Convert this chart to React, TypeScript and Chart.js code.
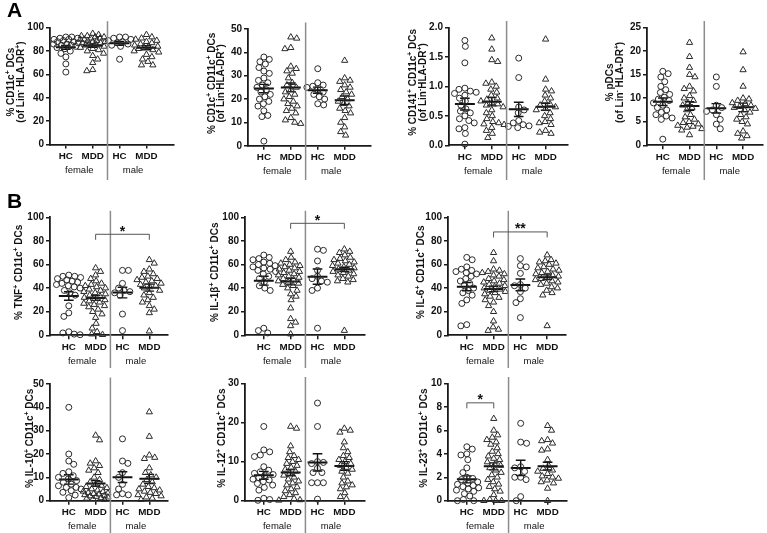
import React, { useEffect, useRef } from "react";
import { Chart, registerables } from "chart.js";
Chart.register(...registerables);

const FONT = '"Liberation Sans", Arial, Helvetica, sans-serif';

const groupLabels = ["HC", "MDD", "HC", "MDD"];
const sexLabels = ["female", "male"];
const groupX = [1, 2, 3, 4];
const sexCenters = [1.5, 3.5];
const dividerX = 2.55;

// ---------- Panel A: % CD11c+ DCs ----------
const cd11cValues = [
  [92, 92, 91, 91, 90, 90, 89, 88, 88, 87, 86, 86, 85, 85, 84, 83, 82, 80, 78, 75, 69, 62],
  [95, 94, 93, 93, 92, 92, 91, 91, 90, 90, 89, 89, 88, 88, 87, 87, 86, 86, 85, 84, 83, 82, 81, 80, 78, 76, 73, 70, 64, 63],
  [92, 92, 91, 90, 89, 88, 87, 86, 85, 84, 73],
  [94, 92, 91, 90, 89, 88, 87, 86, 85, 84, 84, 83, 82, 81, 80, 79, 77, 75, 73, 71, 68, 68],
];
const cd11cMean = [83.2, 84.6, 86.6, 82.8];
const cd11cSem = [1.6, 1.3, 1.6, 1.7];

// ---------- % CD1c+ CD11c+ DCs ----------
const cd1cValues = [
  [38, 37, 36, 35, 33.5, 32, 31, 29, 28, 27, 26, 25, 24, 23, 22, 21, 20, 19, 18, 17, 15, 13, 12.5, 2],
  [46.5, 46, 42, 41.5, 34, 33, 32, 31, 29, 27, 26, 25, 24, 23, 22, 21, 20, 19, 18, 17, 16, 15, 14, 12, 11, 10, 9.5],
  [33, 27, 26, 25.5, 25, 24, 23, 22, 21, 20, 18, 17.5],
  [36.5, 29, 28, 27.5, 26, 25, 24, 23, 22, 21, 20, 19, 18, 17, 16, 15, 14, 12, 10, 8, 6, 4.5],
];
const cd1cMean = [24.5, 25, 23.8, 19.5];
const cd1cSem = [1.8, 1.9, 1.3, 1.8];

// ---------- % CD141+ CD11c+ DCs ----------
const cd141Values = [
  [1.78, 1.68, 1.4, 0.97, 0.95, 0.92, 0.9, 0.88, 0.85, 0.8, 0.75, 0.68, 0.62, 0.58, 0.55, 0.5, 0.45, 0.42, 0.38, 0.3, 0.28, 0.2, 0.02],
  [1.82, 1.63, 1.45, 1.42, 1.07, 1.05, 1.0, 0.95, 0.9, 0.85, 0.8, 0.78, 0.75, 0.72, 0.7, 0.68, 0.65, 0.6, 0.55, 0.5, 0.45, 0.4, 0.38, 0.36, 0.35, 0.3, 0.25, 0.2, 0.13],
  [1.48, 1.15, 0.65, 0.6, 0.55, 0.42, 0.38, 0.35, 0.33, 0.32, 0.3],
  [1.8, 1.12, 0.95, 0.92, 0.85, 0.8, 0.75, 0.7, 0.68, 0.65, 0.62, 0.6, 0.55, 0.5, 0.45, 0.4, 0.38, 0.35, 0.25, 0.22, 0.2],
];
const cd141Mean = [0.7, 0.74, 0.61, 0.655];
const cd141Sem = [0.1, 0.07, 0.12, 0.06];

// ---------- % pDCs ----------
const pdcValues = [
  [15.7, 15.2, 14.5, 13.5, 12.5, 11.8, 11.2, 10.8, 10.2, 9.8, 9.5, 9.0, 8.5, 8.0, 7.5, 7.0, 6.5, 6.2, 5.8, 5.5, 1.3],
  [21.8, 18.8, 16.5, 15, 14.5, 12.5, 12, 11.5, 10.5, 10, 9.5, 9, 8.5, 8, 7.5, 6.5, 6, 5.5, 5, 4.8, 4.5, 4.2, 4, 3.8, 3.5, 3.2, 2.2],
  [14.5, 12.5, 8.5, 8, 7.5, 7.2, 6.5, 5.5, 4.5, 3.5],
  [19.8, 16, 12.5, 10, 9.8, 9.5, 9, 8.8, 8.5, 8.2, 8, 7.8, 7.5, 7, 6.5, 6, 5.5, 5, 4.5, 3, 2.5, 2, 1.5],
];
const pdcMean = [9.25, 8.33, 7.84, 8.05];
const pdcSem = [0.8, 0.9, 1.0, 0.9];

// ---------- Panel B: % TNF+ ----------
const tnfValues = [
  [51, 50, 50, 49, 48, 47, 46, 45, 44, 43, 42, 41, 40, 38, 36, 34, 25, 19, 16, 3, 2, 1, 0.5],
  [57, 54, 51, 48, 46, 44, 43, 42, 41, 40, 39, 38, 37, 36, 35, 34, 33, 32, 31, 30, 29, 28, 27, 26, 25, 24, 22, 20, 18, 15, 10, 6, 3, 1, 0.5],
  [55, 55, 44, 40, 38, 37, 36, 34, 18, 4],
  [64, 61, 56, 54, 52, 50, 49, 48, 47, 46, 45, 44, 43, 42, 41, 40, 38, 36, 34, 32, 30, 28, 25, 22, 19, 3.5],
];
const tnfMean = [33.3, 31.6, 36.2, 40.4];
const tnfSem = [3.6, 2.0, 4.5, 3.0];
const tnfSig = [{ from: 2, to: 4, y: 85.6, label: "*" }];

// ---------- % IL-1β+ ----------
const il1bValues = [
  [68, 66, 65, 64, 62, 61, 60, 59, 58, 57, 56, 55, 54, 52, 50, 48, 45, 42, 40, 38, 6, 4, 2],
  [71, 66, 64, 62, 61, 60, 59, 58, 57, 56, 55, 54, 53, 52, 51, 50, 49, 48, 47, 46, 45, 44, 43, 42, 40, 38, 35, 33, 30, 23, 14, 11, 8, 1],
  [73, 72, 63, 55, 50, 48, 46, 45, 40, 38, 6],
  [73, 71, 70, 68, 66, 65, 64, 63, 62, 61, 60, 59, 58, 57, 56, 55, 54, 53, 52, 51, 50, 48, 47, 46, 45, 4],
];
const il1bMean = [46.3, 45.5, 49.7, 55.9];
const il1bSem = [3.8, 2.8, 6.5, 1.8];
const il1bSig = [{ from: 2, to: 4, y: 94.9, label: "*" }];

// ---------- % IL-6+ ----------
const il6Values = [
  [66, 64, 58, 56, 55, 54, 53, 52, 50, 48, 46, 44, 42, 40, 38, 36, 34, 30, 27, 9, 8],
  [70, 63, 56, 55, 54, 53, 52, 51, 50, 48, 47, 46, 45, 44, 43, 42, 41, 40, 39, 38, 37, 36, 35, 33, 32, 30, 28, 25, 20, 12, 7, 5, 4],
  [65, 59, 58, 52.5, 43, 42, 40, 37, 31, 27.7, 15],
  [68, 64, 63, 62, 61, 60, 58, 57, 56, 55, 54, 53, 52, 51, 50, 49, 48, 47, 46, 45, 44, 43, 41, 40, 38, 36, 34, 8],
];
const il6Mean = [41.2, 39.3, 42.7, 49.2];
const il6Sem = [3.5, 2.3, 5.0, 2.0];
const il6Sig = [{ from: 2, to: 4, y: 87.6, label: "**" }];

// ---------- % IL-10+ ----------
const il10Values = [
  [40, 20, 17, 15.6, 12.4, 11.7, 10.7, 10, 9.3, 8.6, 7.9, 7.1, 6.4, 5.7, 5.7, 5, 4.3, 3.6, 2.4, 1.3],
  [28, 26, 17, 16, 15, 14, 13, 12, 10, 9, 8, 7, 6.5, 6, 5.5, 5, 4.5, 4, 3.8, 3.5, 3.2, 3, 2.8, 2.5, 2.2, 2, 1.8, 1.5, 1.2, 1, 0.8, 0.5],
  [26.5, 17, 16, 12, 10, 7, 5, 3, 2.5, 2.5],
  [38, 27.5, 19.5, 18.5, 18, 14, 12, 11, 10, 9, 8, 7, 6, 5.5, 5, 4.5, 4, 3.5, 3, 2.5, 2, 1.5, 1, 0.5],
];
const il10Mean = [9.1, 7.4, 10.1, 9.4];
const il10Sem = [2.0, 1.2, 2.3, 1.9];

// ---------- % IL-12+ ----------
const il12Values = [
  [19, 13, 12.5, 11.7, 11.3, 8.7, 7.8, 7.4, 7, 6.7, 6.4, 5.9, 5.5, 5.3, 4.9, 4.4, 4, 3.4, 2.7, 0.6, 0.3, 0.1],
  [19, 18.5, 14, 12.5, 11.5, 11, 10.5, 10, 9.5, 9, 8.5, 8, 7.5, 7, 6.5, 6, 5.5, 5, 4.5, 4, 3.5, 3, 2.5, 2, 1.5, 1, 0.5, 0.2, 0.1],
  [25, 19, 10, 9.8, 9.5, 8.3, 7.2, 7.2, 4.6, 4.6, 4.6, 0.4],
  [18.5, 18, 17.5, 15, 13.5, 12.5, 11.5, 11, 10.5, 10, 9.5, 9, 8.5, 8, 7.5, 7, 6, 5, 4.5, 4, 3.5, 3, 2, 1, 0.5],
];
const il12Mean = [6.5, 7.2, 9.8, 8.9];
const il12Sem = [1.0, 0.8, 2.2, 1.1];

// ---------- % IL-23+ ----------
const il23Values = [
  [4.6, 4.4, 4.0, 3.9, 3.5, 2.8, 2.4, 2.0, 1.9, 1.8, 1.6, 1.5, 1.4, 1.3, 1.2, 1.1, 1.0, 0.9, 0.8, 0.6, 0.4, 0.1, 0, 0],
  [7.0, 6.0, 5.6, 5.4, 5.2, 5.0, 4.8, 4.5, 4.2, 4.0, 3.8, 3.6, 3.5, 3.3, 3.1, 3.0, 2.8, 2.6, 2.4, 2.2, 2.0, 1.8, 1.6, 1.4, 1.2, 1.0, 0.8, 0.5, 0.1, 0, 0, 0],
  [6.6, 5.0, 4.9, 2.9, 2.8, 2.5, 2.0, 2.0, 1.8, 0.35, 0],
  [6.4, 6.0, 5.2, 5.1, 4.9, 4.4, 4.3, 3.5, 3.0, 2.75, 2.6, 2.5, 2.3, 2.1, 2.0, 1.9, 1.75, 1.6, 1.5, 1.05, 0],
];
const il23Mean = [1.82, 2.93, 2.8, 2.95];
const il23Sem = [0.3, 0.3, 0.65, 0.33];
const il23Sig = [{ from: 1, to: 2, y: 8.35, label: "*" }];

type Sig = { from: number; to: number; y: number; label: string };
type Spec = {
  key: string;
  values: number[][];
  mean: number[];
  sem: number[];
  yMax: number;
  step: number;
  dec: number;
  title: string[];
  titleDx: number[];
  sig: Sig[];
  axisX: number;
  top: number;
  bottom: number;
  right: number;
  ctop: number;
  cheight: number;
  xMin: number;
  letter?: string;
  letterY?: number;
};

const ROW_A = { ctop: 0, cheight: 180, xMin: 0.41 };
const ROW_B1 = { ctop: 180, cheight: 188, xMin: 0.3 };
const ROW_B2 = { ctop: 368, cheight: 165, xMin: 0.3 };

const panels: Spec[] = [
  { key: "a1", values: cd11cValues, mean: cd11cMean, sem: cd11cSem, yMax: 100, step: 20, dec: 0,
    title: ["% CD11c^+ DCs", "(of Lin^- HLA-DR^+)"], titleDx: [-40, -29.5], sig: [],
    axisX: 50, top: 27.7, bottom: 144.5, right: 176, ...ROW_A, letter: "A", letterY: 17 },
  { key: "a2", values: cd1cValues, mean: cd1cMean, sem: cd1cSem, yMax: 50, step: 10, dec: 0,
    title: ["% CD1c^+ CD11c^+ DCs", "(of Lin^-HLA-DR^+)"], titleDx: [-37, -27.5], sig: [],
    axisX: 248.3, top: 29, bottom: 145.8, right: 373, ...ROW_A },
  { key: "a3", values: cd141Values, mean: cd141Mean, sem: cd141Sem, yMax: 2, step: 0.5, dec: 1,
    title: ["% CD141^+ CD11c^+ DCs", "(of Lin^-HLA-DR^+)"], titleDx: [-36.5, -26.5], sig: [],
    axisX: 449.3, top: 27.5, bottom: 145.3, right: 570, ...ROW_A },
  { key: "a4", values: pdcValues, mean: pdcMean, sem: pdcSem, yMax: 25, step: 5, dec: 0,
    title: ["% pDCs", "(of Lin^- HLA-DR^+)"], titleDx: [-37.5, -28], sig: [],
    axisX: 646.7, top: 27.5, bottom: 145.3, right: 765, ...ROW_A },
  { key: "b1", values: tnfValues, mean: tnfMean, sem: tnfSem, yMax: 100, step: 20, dec: 0,
    title: ["% TNF^+ CD11c^+ DCs"], titleDx: [-31.5], sig: tnfSig,
    axisX: 50, top: 217.3, bottom: 335.3, right: 170, ...ROW_B1, letter: "B", letterY: 28 },
  { key: "b2", values: il1bValues, mean: il1bMean, sem: il1bSem, yMax: 100, step: 20, dec: 0,
    title: ["% IL-1β^+ CD11c^+ DCs"], titleDx: [-31], sig: il1bSig,
    axisX: 245, top: 217.3, bottom: 335.3, right: 367, ...ROW_B1 },
  { key: "b3", values: il6Values, mean: il6Mean, sem: il6Sem, yMax: 100, step: 20, dec: 0,
    title: ["% IL-6^+ CD11c^+ DCs"], titleDx: [-27.5], sig: il6Sig,
    axisX: 448.3, top: 217.3, bottom: 335.3, right: 568.5, ...ROW_B1 },
  { key: "b4", values: il10Values, mean: il10Mean, sem: il10Sem, yMax: 50, step: 10, dec: 0,
    title: ["% IL-10^+ CD11c^+ DCs"], titleDx: [-20.5], sig: [],
    axisX: 50, top: 384, bottom: 500.7, right: 170, ...ROW_B2 },
  { key: "b5", values: il12Values, mean: il12Mean, sem: il12Sem, yMax: 30, step: 10, dec: 0,
    title: ["% IL-12^+ CD11c^+ DCs"], titleDx: [-23.5], sig: [],
    axisX: 245, top: 383.5, bottom: 500.7, right: 367, ...ROW_B2 },
  { key: "b6", values: il23Values, mean: il23Mean, sem: il23Sem, yMax: 10, step: 2, dec: 0,
    title: ["% IL-23^+ CD11c^+ DCs"], titleDx: [-25], sig: il23Sig,
    axisX: 448.3, top: 383.5, bottom: 500.7, right: 569, ...ROW_B2 },
];

const UNIT_PX = 27.3;
const Y_W = 30;
const X_H = 16;

// beeswarm horizontal offsets (layout only), in pixels
function swarm(vals: number[], yMax: number, plotH: number): number[] {
  const D = 5.9;
  const MAX = 12.5;
  const order = vals.map((_, i) => i).sort((a, b) => vals[b] - vals[a]);
  const pts: { x: number; y: number }[] = [];
  const res = new Array(vals.length).fill(0);
  let sumX = 0;
  for (const i of order) {
    const y = (vals[i] / yMax) * plotH;
    let chosen: number | null = null;
    let bestX = 0;
    let bestD = -1;
    for (let s = 0; s <= MAX && chosen === null; s += 0.5) {
      const cands = s === 0 ? [0] : sumX > 0 ? [-s, s] : [s, -s];
      for (const c of cands) {
        let md = Infinity;
        for (const p of pts) md = Math.min(md, Math.hypot(p.x - c, p.y - y));
        if (md >= D) {
          chosen = c;
          break;
        }
        if (md > bestD) {
          bestD = md;
          bestX = c;
        }
      }
    }
    const x = chosen === null ? bestX : chosen;
    pts.push({ x, y });
    sumX += x;
    res[i] = x;
  }
  return res;
}

function drawRich(ctx: CanvasRenderingContext2D, text: string, x: number, y: number, size: number) {
  const segs: { t: string; sup: boolean; w: number }[] = [];
  let buf = "";
  for (let i = 0; i < text.length; i++) {
    if (text[i] === "^") {
      if (buf) segs.push({ t: buf, sup: false, w: 0 });
      buf = "";
      segs.push({ t: text[i + 1], sup: true, w: 0 });
      i++;
    } else buf += text[i];
  }
  if (buf) segs.push({ t: buf, sup: false, w: 0 });
  const base = `bold ${size}px ${FONT}`;
  const sup = `bold ${size * 0.68}px ${FONT}`;
  let total = 0;
  for (const s of segs) {
    ctx.font = s.sup ? sup : base;
    s.w = ctx.measureText(s.t).width;
    total += s.w;
  }
  let cx = x - total / 2;
  ctx.textAlign = "left";
  ctx.textBaseline = "alphabetic";
  for (const s of segs) {
    ctx.font = s.sup ? sup : base;
    ctx.fillText(s.t, cx, y + (s.sup ? -size * 0.4 : 0));
    cx += s.w;
  }
}

function Panel({ spec }: { spec: Spec }) {
  const ref = useRef<HTMLCanvasElement>(null);
  const left = Math.max(0, spec.axisX - 50);
  const top = spec.ctop;
  const width = Math.round(spec.right + 3 - left);
  const height = spec.cheight;

  useEffect(() => {
    const canvas = ref.current;
    if (!canvas) return;
    const plotH = spec.bottom - spec.top;
    const xMax = spec.xMin + (spec.right - spec.axisX) / UNIT_PX;
    const unit = (spec.right - spec.axisX) / (xMax - spec.xMin);

    const datasets: any[] = [];
    spec.values.forEach((vals, gi) => {
      const offs = swarm(vals, spec.yMax, plotH);
      const circle = gi % 2 === 0;
      datasets.push({
        type: "scatter",
        data: vals.map((v, i) => ({ x: groupX[gi] + offs[i] / unit, y: v })),
        pointStyle: circle ? "circle" : "triangle",
        pointRadius: circle ? 3 : 3.6,
        borderColor: "#2a2a2a",
        backgroundColor: "rgba(0,0,0,0)",
        borderWidth: 1,
        clip: false,
      });
    });
    const meanData: any[] = [];
    const semData: any[] = [];
    spec.mean.forEach((m, gi) => {
      const x = groupX[gi];
      const s = spec.sem[gi];
      meanData.push({ x: x - 0.37, y: m }, { x: x + 0.37, y: m }, { x, y: null });
      semData.push(
        { x, y: m - s }, { x, y: m + s }, { x, y: null },
        { x: x - 0.18, y: m + s }, { x: x + 0.18, y: m + s }, { x, y: null },
        { x: x - 0.18, y: m - s }, { x: x + 0.18, y: m - s }, { x, y: null }
      );
    });
    datasets.push({
      type: "line", data: meanData, borderColor: "#111", borderWidth: 2,
      pointRadius: 0, spanGaps: false, clip: false, fill: false,
    });
    datasets.push({
      type: "line", data: semData, borderColor: "#111", borderWidth: 1.4,
      pointRadius: 0, spanGaps: false, clip: false, fill: false,
    });

    const deco = {
      id: "deco",
      afterDraw(chart: any) {
        const ctx: CanvasRenderingContext2D = chart.ctx;
        const ca = chart.chartArea;
        const xs = chart.scales.x;
        const ys = chart.scales.y;
        ctx.save();
        // divider between female / male
        const sx = xs.getPixelForValue(dividerX);
        ctx.strokeStyle = "#8c8c8c";
        ctx.lineWidth = 1.5;
        ctx.beginPath();
        ctx.moveTo(sx, ca.top - 6.5);
        ctx.lineTo(sx, chart.height);
        ctx.stroke();
        // sex labels
        ctx.fillStyle = "#111";
        ctx.font = `9.5px ${FONT}`;
        ctx.textAlign = "center";
        ctx.textBaseline = "middle";
        sexCenters.forEach((c, i) => ctx.fillText(sexLabels[i], xs.getPixelForValue(c), ca.bottom + 26));
        // y title
        const cy = (ca.top + ca.bottom) / 2 - 4;
        ctx.save();
        ctx.translate(ca.left, cy);
        ctx.rotate(-Math.PI / 2);
        ctx.fillStyle = "#111";
        spec.title.forEach((t, i) => drawRich(ctx, t, 0, spec.titleDx[i] + 3.6, 10));
        ctx.restore();
        // significance brackets
        spec.sig.forEach((s) => {
          const x1 = xs.getPixelForValue(s.from);
          const x2 = xs.getPixelForValue(s.to);
          const y = ys.getPixelForValue(s.y);
          ctx.strokeStyle = "#555";
          ctx.lineWidth = 1;
          ctx.beginPath();
          ctx.moveTo(x1, y + 5.5);
          ctx.lineTo(x1, y);
          ctx.lineTo(x2, y);
          ctx.lineTo(x2, y + 5.5);
          ctx.stroke();
          ctx.fillStyle = "#111";
          ctx.font = `bold 14px ${FONT}`;
          ctx.textAlign = "center";
          ctx.textBaseline = "alphabetic";
          ctx.fillText(s.label, (x1 + x2) / 2, y + 1.5);
        });
        if (spec.letter) {
          ctx.fillStyle = "#000";
          ctx.font = `bold 21px ${FONT}`;
          ctx.textAlign = "left";
          ctx.textBaseline = "alphabetic";
          ctx.fillText(spec.letter, 7, spec.letterY || 17);
        }
        ctx.restore();
      },
    };

    const tickFont = { family: FONT, size: 10, weight: "bold" as const };
    const xFont = { family: FONT, size: 9.8, weight: "bold" as const };
    const chart = new Chart(canvas, {
      type: "scatter",
      data: { datasets },
      options: {
        responsive: false,
        animation: false,
        events: [],
        layout: {
          padding: {
            left: spec.axisX - left - Y_W,
            top: spec.top - top,
            right: left + width - spec.right,
            bottom: top + height - spec.bottom - X_H,
          },
        },
        plugins: { legend: { display: false }, tooltip: { enabled: false } },
        scales: {
          x: {
            type: "linear",
            min: spec.xMin,
            max: xMax,
            afterBuildTicks: (ax: any) => {
              ax.ticks = groupX.map((v) => ({ value: v }));
            },
            afterFit: (s: any) => {
              s.height = X_H;
            },
            grid: { display: true, drawOnChartArea: false, drawTicks: true, tickLength: 4, color: "#1a1a1a", lineWidth: 1.5 },
            border: { display: true, color: "#1a1a1a", width: 1.8 },
            ticks: {
              autoSkip: false, maxRotation: 0, minRotation: 0, padding: 2,
              font: xFont, color: "#111",
              callback: (_v: any, i: number) => groupLabels[i],
            },
          },
          y: {
            type: "linear",
            min: 0,
            max: spec.yMax,
            afterFit: (s: any) => {
              s.width = Y_W;
            },
            grid: { display: true, drawOnChartArea: false, drawTicks: true, tickLength: 4, color: "#1a1a1a", lineWidth: 1.5 },
            border: { display: true, color: "#1a1a1a", width: 1.8 },
            ticks: {
              stepSize: spec.step, padding: 2, font: tickFont, color: "#111",
              callback: (v: any) => Number(v).toFixed(spec.dec),
            },
          },
        },
      } as any,
      plugins: [deco],
    });
    return () => chart.destroy();
  }, []);

  return (
    <canvas
      ref={ref}
      width={width}
      height={height}
      style={{ position: "absolute", left, top, width, height }}
    />
  );
}

export default function App() {
  return (
    <div
      style={{
        position: "absolute",
        left: 0,
        top: 0,
        width: 767,
        height: 533,
        overflow: "hidden",
        background: "#fff",
      }}
    >
      {panels.map((p) => (
        <Panel key={p.key} spec={p} />
      ))}
    </div>
  );
}
